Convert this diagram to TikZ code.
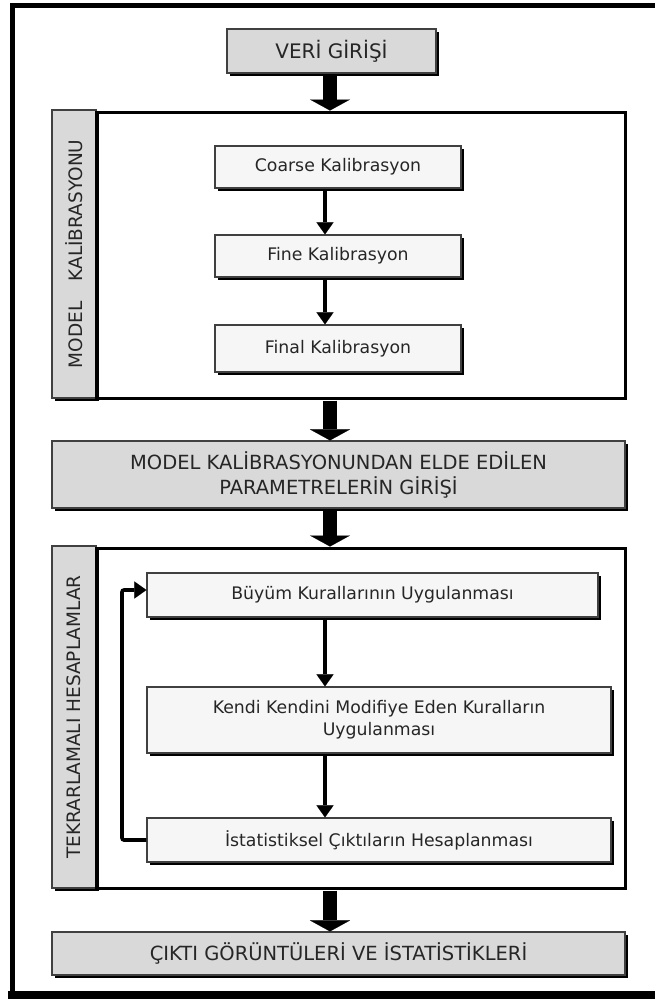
\documentclass[tikz,border=0pt]{standalone}
\usepackage{fontspec}
\setmainfont{DejaVu Sans}
\usepackage{graphicx}
\usetikzlibrary{arrows.meta,shadows,calc}
\definecolor{headgray}{HTML}{D9D9D9}
\definecolor{boxwhite}{HTML}{F6F6F6}
\newcommand\boxfnt{\fontsize{17.3}{22}\selectfont}
\newcommand\capfnt{\fontsize{19.5}{25}\selectfont}
\newcommand\sidefnt{\fontsize{18.5}{22}\selectfont}
\tikzset{
  panel/.style={draw=black!75, line width=1.2pt, inner sep=0pt, align=center,
    text=black!85,
    drop shadow={shadow xshift=2.5pt, shadow yshift=-2.5pt, fill=black, opacity=1}},
  headbox/.style={panel, fill=headgray, font=\capfnt},
  stepbox/.style={panel, fill=boxwhite, font=\boxfnt},
  sidebar/.style={panel, fill=headgray, font=\sidefnt},
  group/.style={draw=black, line width=3pt, inner sep=0pt},
  bigflow/.style={line width=14pt,
    -{Triangle[width=40pt 0, length=11pt 0, line width=0.1pt]}},
  flow/.style={line width=3.6pt,
    -{Triangle[width=17pt 0, length=12pt 0, line width=0.1pt]}},
}
\begin{document}
\begin{tikzpicture}[x=1pt,y=-1pt]
\useasboundingbox (0,0) rectangle (654,999);

% outer frame (runs off the right edge)
\draw[line width=5pt] (12.5,997) -- (12.5,5) -- (670,5);
\draw[line width=9pt] (8,995) -- (670,995);

% arrow columns
\coordinate (bigx) at (330,0);
\coordinate (thinx) at (325,0);

% input
\node[headbox, font=\fontsize{20}{24}\selectfont,
      minimum width=209pt, minimum height=44pt] (veri) at (331.5,51) {VERİ GİRİŞİ};

% calibration group
\node[sidebar, minimum width=44pt, minimum height=288pt] (side1) at (74,254)
  {\rotatebox{90}{MODEL\hspace{1.1em}KALİBRASYONU}};
\node[group, minimum width=529pt, minimum height=286pt] (calib) at (360.5,255) {};

\node[stepbox, minimum width=246pt, minimum height=42pt] (coarse) at (338,167) {Coarse Kalibrasyon};
\node[stepbox, minimum width=246pt, minimum height=42pt] (fine) at (338,256) {Fine Kalibrasyon};
\node[stepbox, minimum width=246pt, minimum height=47pt] (final) at (338,348.5) {Final Kalibrasyon};

% parameters from calibration
\node[headbox, minimum width=573pt, minimum height=67pt] (param) at (338.5,474.5)
  {MODEL KALİBRASYONUNDAN ELDE EDİLEN\\PARAMETRELERİN GİRİŞİ};

% iterative computation group
\node[sidebar, minimum width=44pt, minimum height=342pt] (side2) at (74,717)
  {\rotatebox{90}{TEKRARLAMALI HESAPLAMLAR}};
\node[group, minimum width=529pt, minimum height=340pt] (iter) at (360.5,718) {};

\node[stepbox, minimum width=451pt, minimum height=44pt] (growth) at (372.5,595) {Büyüm Kurallarının Uygulanması};
\node[stepbox, minimum width=464pt, minimum height=66pt] (selfmod) at (379,720)
  {Kendi Kendini Modifiye Eden Kuralların\\Uygulanması};
\node[stepbox, minimum width=464pt, minimum height=44pt] (stats) at (379,840) {İstatistiksel Çıktıların Hesaplanması};

% output
\node[headbox, minimum width=573pt, minimum height=43pt] (out) at (338.5,953.5)
  {ÇIKTI GÖRÜNTÜLERİ VE İSTATİSTİKLERİ};

% main flow
\draw[bigflow] ($(veri.south -| bigx)+(0,2)$) -- (calib.north -| bigx);
\draw[bigflow] ($(calib.south -| bigx)+(0,1)$) -- (param.north -| bigx);
\draw[bigflow] ($(param.south -| bigx)+(0,2)$) -- (iter.north -| bigx);
\draw[bigflow] ($(iter.south -| bigx)+(0,1)$) -- (out.north -| bigx);

% calibration steps
\draw[flow] ($(coarse.south -| thinx)+(0,2)$) -- (fine.north -| thinx);
\draw[flow] ($(fine.south -| thinx)+(0,2)$) -- (final.north -| thinx);

% iteration steps
\draw[flow] ($(growth.south -| thinx)+(0,2)$) -- (selfmod.north -| thinx);
\draw[flow] ($(selfmod.south -| thinx)+(0,2)$) -- (stats.north -| thinx);

% feedback loop
\coordinate (loop) at (122,590);
\draw[flow, rounded corners=2pt] (stats.west) -| (loop) -- (loop -| growth.west);
\end{tikzpicture}
\end{document}
